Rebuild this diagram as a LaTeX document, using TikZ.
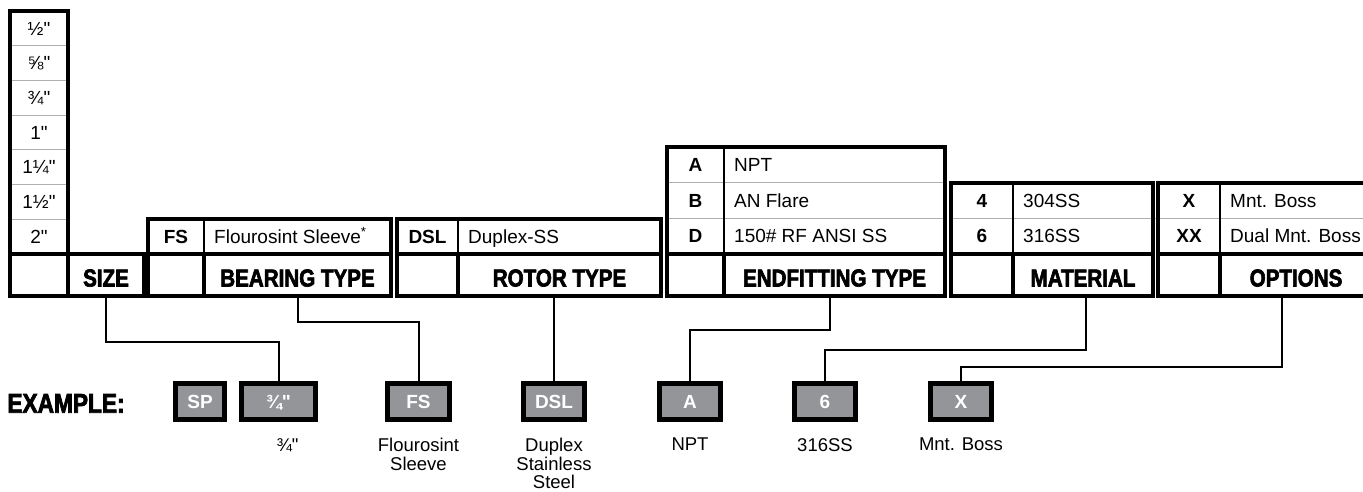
\documentclass[tikz,border=0pt]{standalone}
\usepackage{fontspec}
\setmainfont{Liberation Sans}[Ligatures=TeXOff]
\newfontfamily\headfont[FakeStretch=0.84,BoldFeatures={FakeBold=2.6}]{Liberation Sans}
\usetikzlibrary{positioning}
\definecolor{boxgray}{RGB}{147,149,152}
\definecolor{gridgray}{RGB}{175,175,175}

\begin{document}
\begin{tikzpicture}[x=1pt, y=-1pt,
    thickbox/.style={draw, line width=4.5pt},
    hdr/.style={thickbox, minimum height=42pt, inner sep=0pt, text height=23pt, text depth=0pt,
        font=\headfont\bfseries\fontsize{24.5}{24}\selectfont},
    opt/.style={inner sep=0pt, text height=13.3pt, text depth=0pt, font=\fontsize{19}{20}\selectfont},
    code/.style={opt, font=\bfseries\fontsize{19}{20}\selectfont},
    rowline/.style={gridgray, line width=0.8pt},
    divline/.style={line width=2pt},
    exbox/.style={draw, line width=5pt, fill=boxgray, text=white, minimum height=36pt, inner sep=0pt,
        text height=13.3pt, text depth=0pt, font=\bfseries\fontsize{19}{20}\selectfont},
    lbl/.style={align=center, inner sep=0pt, font=\fontsize{18.5}{18.5}\selectfont},
    link/.style={line width=2pt}]

    \useasboundingbox (0,0) rectangle (1363,492);

    % size column
    \foreach \k in {1,...,6}
        \draw[rowline] (10,{11+34.71*\k}) -- (68,{11+34.71*\k});
    \draw[thickbox] (10,254) -- (10,11) -- (68,11) -- (68,254);
    \foreach \s [count=\i] in {½", ⅝", ¾", 1", 1¼", 1½", 2"}
        \node[opt] (s\i) at (39,{11+34.71*(\i-0.5)}) {\s};

    % option boxes: left/divider/right/top
    \draw[rowline] (667,182.7) -- (945,182.7);
    \draw[rowline] (667,218.3) -- (945,218.3);
    \draw[rowline] (951,218.5) -- (1372,218.5);
    \foreach \l/\d/\r/\t in {148/204/391/219, 397/458/661/219, 667/724/945/147,
                             951/1013/1153/183, 1158/1220/1372/183} {
        \draw[divline] (\d,\t) -- (\d,254);
        \draw[thickbox] (\l,\t) rectangle (\r,254);
    }

    \node[code] (fs) at (176,236.5) {FS};
    \node[opt, anchor=west] (fsd) at (214,236.5) {Flourosint Sleeve\textsuperscript{*}};
    \node[code] (dsl) at (427.5,236.5) {DSL};
    \node[opt, anchor=west] (dsld) at (468,236.5) {Duplex-SS};
    \node[code] (efa) at (695.5,164.8) {A};
    \node[opt, anchor=west] (efad) at (734,164.8) {NPT};
    \node[code] (efb) at (695.5,200.5) {B};
    \node[opt, anchor=west] (efbd) at (734,200.5) {AN Flare};
    \node[code] (efd) at (695.5,236.2) {D};
    \node[opt, anchor=west] (efdd) at (734,236.2) {150\# RF ANSI SS};
    \node[code] (m4) at (982,200.7) {4};
    \node[opt, anchor=west] (m4d) at (1023,200.7) {304SS};
    \node[code] (m6) at (982,236.2) {6};
    \node[opt, anchor=west] (m6d) at (1023,236.2) {316SS};
    \node[code] (ox) at (1189,200.7) {X};
    \node[opt, anchor=west] (oxd) at (1230,200.7) {Mnt. Boss};
    \node[code] (oxx) at (1189,236.2) {XX};
    \node[opt, anchor=west] (oxxd) at (1230,236.2) {Dual Mnt. Boss};

    % header row
    \node[hdr, minimum width=58pt] (h1) at (39,275) {};
    \node[hdr, minimum width=76pt] (size) at (106,275) {SIZE};
    \node[hdr, minimum width=56pt] (h2) at (176,275) {};
    \node[hdr, minimum width=187pt] (bearing) at (297.5,275) {BEARING TYPE};
    \node[hdr, minimum width=61pt] (h3) at (427.5,275) {};
    \node[hdr, minimum width=203pt] (rotor) at (559.5,275) {ROTOR TYPE};
    \node[hdr, minimum width=57pt] (h4) at (695.5,275) {};
    \node[hdr, minimum width=221pt] (endfit) at (834.5,275) {ENDFITTING TYPE};
    \node[hdr, minimum width=62pt] (h5) at (982,275) {};
    \node[hdr, minimum width=140pt] (material) at (1083,275) {MATERIAL};
    \node[hdr, minimum width=62pt] (h6) at (1189,275) {};
    \node[hdr, minimum width=152pt] (options) at (1296,275) {OPTIONS};

    % example
    \node[inner sep=0pt, text height=19.3pt, text depth=0pt,
          font=\headfont\bfseries\fontsize{27}{27}\selectfont] (example) at (66,403) {EXAMPLE:};
    \node[exbox, minimum width=49pt] (exsp) at (200,401.5) {SP};
    \node[exbox, minimum width=74pt] (ex34) at (278.5,401.5) {¾"};
    \node[exbox, minimum width=62pt] (exfs) at (418.5,401.5) {FS};
    \node[exbox, minimum width=61pt] (exdsl) at (554,401.5) {DSL};
    \node[exbox, minimum width=61pt] (exa) at (690,401.5) {A};
    \node[exbox, minimum width=61pt] (ex6) at (825,401.5) {6};
    \node[exbox, minimum width=61pt] (exx) at (961,401.5) {X};

    \node[lbl, below=16pt of ex34, xshift=9pt] (l34) {¾"};
    \node[lbl, below=16pt of exfs] (lfs) {Flourosint\\Sleeve};
    \node[lbl, below=16pt of exdsl] (ldsl) {Duplex\\Stainless\\Steel};
    \node[lbl, below=16pt of exa] (la) {NPT};
    \node[lbl, below=16pt of ex6] (l6) {316SS};
    \node[lbl, below=16pt of exx] (lx) {Mnt. Boss};

    % connectors
    \draw[link] (size.south) -- ++(0,44) -| (ex34.north);
    \draw[link] (bearing.south) -- ++(0,24) -| (exfs.north);
    \draw[link] (rotor.south -| exdsl.north) -- (exdsl.north);
    \draw[link] ([xshift=-4.5pt]endfit.south) -- ++(0,32) -| (exa.north);
    \draw[link] ([xshift=3pt]material.south) -- ++(0,52) -| (ex6.north);
    \draw[link] ([xshift=-14pt]options.south) -- ++(0,69) -| (exx.north);
\end{tikzpicture}
\end{document}
